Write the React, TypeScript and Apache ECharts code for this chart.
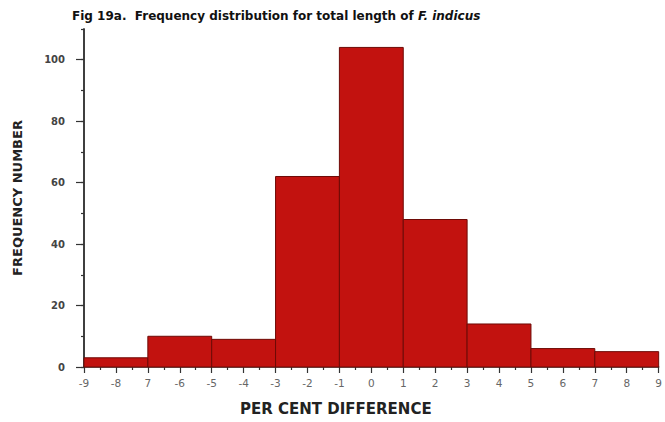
import React, { useEffect, useRef } from "react";
import * as echarts from "echarts";

const binStart = [-9, -7, -5, -3, -1, 1, 3, 5, 7];
const binEnd = [-7, -5, -3, -1, 1, 3, 5, 7, 9];
const frequency = [3, 10, 9, 62, 104, 48, 14, 6, 5];
const xTickLabels = ["-9", "-8", "7", "-6", "-5", "-4", "-3", "-2", "-1", "0", "1", "2", "3", "4", "5", "6", "7", "8", "9"];
const yMajorTicks = [0, 20, 40, 60, 80, 100];

export default function App() {
  const ref = useRef<HTMLDivElement>(null);
  useEffect(() => {
    if (!ref.current) return;
    const chart = echarts.init(ref.current, null, { renderer: "svg" });
    const data = binStart.map((s, i) => [s, binEnd[i], frequency[i]]);
    chart.setOption({
      animation: false,
      backgroundColor: "#ffffff",
      title: {
        text: "{a|Fig 19a.  Frequency distribution for total length of }{b|F. indicus}",
        left: 67,
        top: 5,
        textStyle: {
          rich: {
            a: { fontFamily: "DejaVu Sans", fontWeight: "bold", fontSize: 12, color: "#111" },
            b: { fontFamily: "DejaVu Sans", fontWeight: "bold", fontStyle: "italic", fontSize: 12, color: "#111" },
          },
        },
      },
      grid: { left: 84, right: 2, top: 29, bottom: 55 },
      xAxis: {
        type: "value",
        min: -9,
        max: 9,
        interval: 1,
        splitLine: { show: false },
        axisLine: { show: true, onZero: false, lineStyle: { color: "#333", width: 1.5 } },
        axisTick: { show: true, length: 6, lineStyle: { color: "#333", width: 1.2 } },
        minorTick: { show: true, splitNumber: 2, length: 3, lineStyle: { color: "#333", width: 1.2 } },
        axisLabel: {
          margin: 10,
          color: "#666",
          fontFamily: "DejaVu Sans",
          fontSize: 10.5,
          formatter: (v: number) => xTickLabels[Math.round(v) + 9] ?? "",
        },
      },
      yAxis: [
        {
          type: "value",
          min: 0,
          max: 110,
          interval: 10,
          splitLine: { show: false },
          axisLine: { show: true, onZero: false, lineStyle: { color: "#333", width: 1.5 } },
          axisTick: { show: true, length: 3, lineStyle: { color: "#333", width: 1.2 } },
          axisLabel: {
            margin: 19,
            color: "#444",
            fontFamily: "DejaVu Sans",
            fontWeight: "bold",
            fontSize: 10,
            formatter: (v: number) => (v % 20 === 0 ? String(v) : ""),
          },
          name: "FREQUENCY NUMBER",
          nameLocation: "middle",
          nameGap: 60,
          nameTextStyle: { fontFamily: "DejaVu Sans", fontWeight: "bold", fontSize: 13, color: "#222" },
        },
        {
          type: "value",
          min: 0,
          max: 110,
          interval: 20,
          position: "left",
          offset: 0,
          splitLine: { show: false },
          axisLine: { show: true, onZero: false, lineStyle: { color: "#333", width: 1.5 } },
          axisLabel: { show: false },
          axisTick: { show: true, length: 8, customValues: yMajorTicks, lineStyle: { color: "#333", width: 1.2 } },
        },
      ],
      graphic: [
        {
          type: "text",
          left: 240,
          top: 401,
          style: {
            text: "PER CENT DIFFERENCE",
            fontFamily: "DejaVu Sans",
            fontWeight: "bold",
            fontSize: 15,
            fill: "#222",
          },
        },
      ],
      series: [
        {
          type: "custom",
          yAxisIndex: 0,
          data,
          renderItem: (params: any, api: any) => {
            const x0 = api.value(0);
            const x1 = api.value(1);
            const y = api.value(2);
            const p0 = api.coord([x0, y]);
            const p1 = api.coord([x1, 0]);
            return {
              type: "rect",
              shape: { x: p0[0], y: p0[1], width: p1[0] - p0[0], height: p1[1] - p0[1] },
              style: { fill: "#c2120f", stroke: "#6e0a06", lineWidth: 1 },
            };
          },
        },
      ],
    });
    return () => chart.dispose();
  }, []);
  return <div ref={ref} style={{ width: 665, height: 422, position: "absolute", left: 0, top: 0 }} />;
}
